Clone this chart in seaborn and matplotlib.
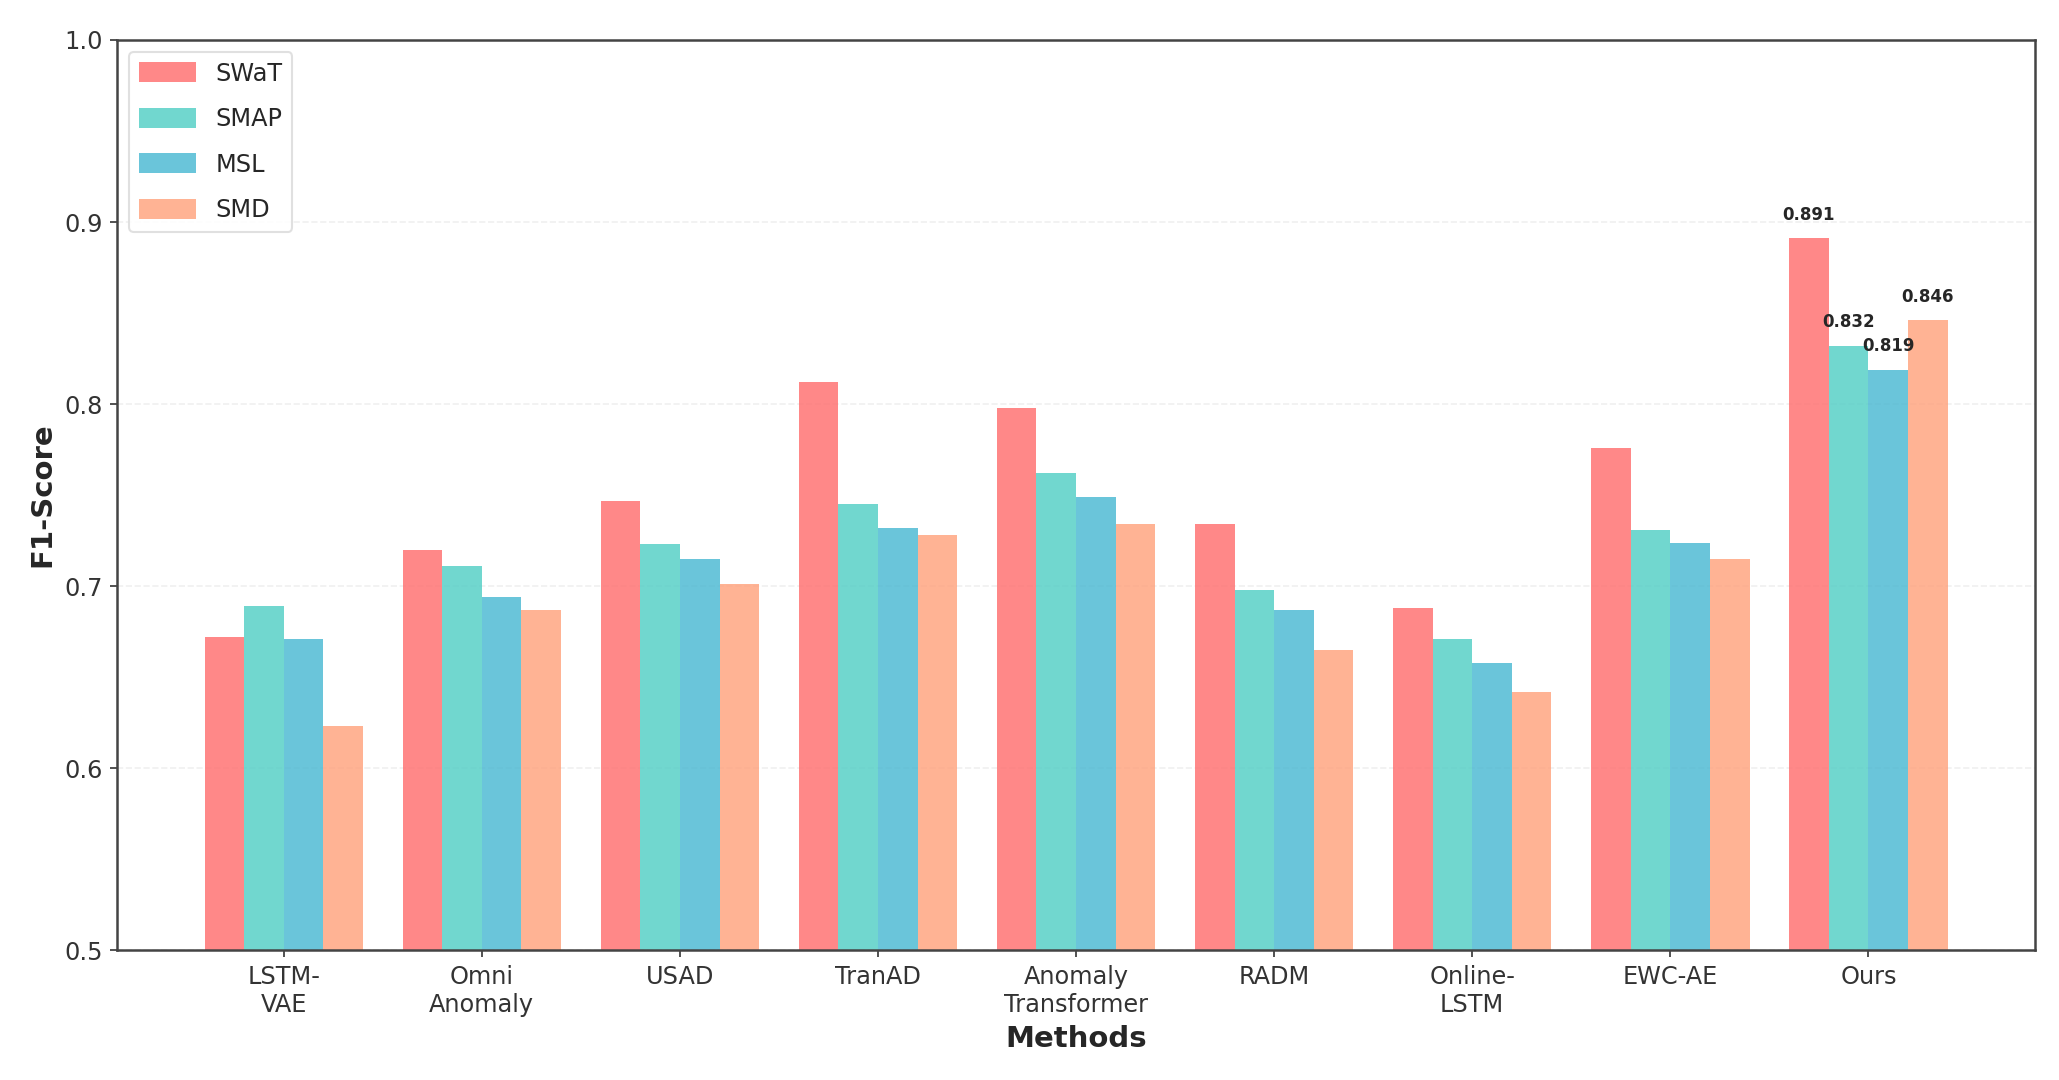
import matplotlib
matplotlib.use("Agg")
import matplotlib.pyplot as plt
import seaborn as sns
import pandas as pd

methods = ["LSTM-\nVAE", "Omni\nAnomaly", "USAD", "TranAD", "Anomaly\nTransformer",
           "RADM", "Online-\nLSTM", "EWC-AE", "Ours"]
datasets = ["SWaT", "SMAP", "MSL", "SMD"]
swat = [0.672, 0.720, 0.747, 0.812, 0.798, 0.734, 0.688, 0.776, 0.891]
smap = [0.689, 0.711, 0.723, 0.745, 0.762, 0.698, 0.671, 0.731, 0.832]
msl = [0.671, 0.694, 0.715, 0.732, 0.749, 0.687, 0.658, 0.724, 0.819]
smd = [0.623, 0.687, 0.701, 0.728, 0.734, 0.665, 0.642, 0.715, 0.846]
colors = ["#FF6B6B", "#4ECDC4", "#45B7D1", "#FFA07A"]


def buildFrame():
    rows = []
    for name, vals in zip(datasets, [swat, smap, msl, smd]):
        for m, v in zip(methods, vals):
            rows.append({"Method": m, "Dataset": name, "F1": v})
    return pd.DataFrame(rows)


def main():
    d = buildFrame()
    sns.set_style("ticks")
    plt.rcParams["font.family"] = ["DejaVu Sans"]

    f, ax = plt.subplots(figsize=(13.73, 7.2), dpi=150)
    sns.barplot(data=d, x="Method", y="F1", hue="Dataset", hue_order=datasets,
                palette=colors, saturation=1, alpha=0.8, width=0.8,
                linewidth=0, ax=ax)

    # value labels only for our method
    last = len(methods) - 1
    for i, (name, vals) in enumerate(zip(datasets, [swat, smap, msl, smd])):
        xpos = last - 0.3 + i * 0.2
        ax.text(xpos, vals[last] + 0.008, f"{vals[last]:.3f}", ha="center",
                va="bottom", fontsize=8, fontweight="bold")

    ax.set_xlim(-0.84, len(methods) - 1 + 0.84)
    ax.set_ylim(0.5, 1.0)
    ax.set_yticks([0.5, 0.6, 0.7, 0.8, 0.9, 1.0])
    ax.yaxis.grid(True, linestyle="--", alpha=0.3)
    ax.set_axisbelow(True)
    ax.set_xlabel("Methods", fontsize=14, fontweight="bold")
    ax.set_ylabel("F1-Score", fontsize=14, fontweight="bold")
    ax.tick_params(axis="both", labelsize=11.5, colors="#333333")
    for s in ax.spines.values():
        s.set_visible(True)
        s.set_color("#444444")
        s.set_linewidth(1.2)

    handles, labels = ax.get_legend_handles_labels()
    for h in handles:
        h.set_alpha(0.8)
    ax.legend(handles, labels, loc="upper left", fontsize=11.5, frameon=True,
              framealpha=0.9, edgecolor="#dddddd", title=None,
              labelspacing=0.9, handlelength=2.4, handleheight=0.9)

    plt.subplots_adjust(left=0.057, right=0.988, top=0.963, bottom=0.12)
    plt.savefig("out.png", dpi=150)


if __name__ == "__main__":
    main()
